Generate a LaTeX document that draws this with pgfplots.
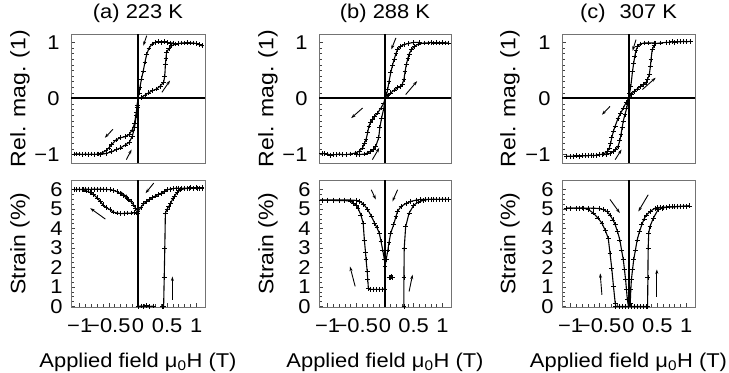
\documentclass[border=0pt]{standalone}
\usepackage{fontspec}
\setmainfont{Liberation Sans}[FakeStretch=1.1]
\usepackage{pgfplots}
\pgfplotsset{compat=1.18}
\usetikzlibrary{arrows.meta}

\pgfplotsset{
  base/.style={
    scale only axis,
    axis line style={black!55, line width=0.9bp},
    tick style={black!75, line width=0.6bp},
    tick align=inside,
    xtick pos=lower, ytick pos=left,
    major tick length=4bp, minor tick length=2.5bp,
    xmin=-1.15, xmax=1.15,
    tick label style={font=\fontsize{20}{22}\selectfont},
    label style={font=\fontsize{21}{23}\selectfont},
    title style={at={(axis description cs:0.5,1)}, anchor=base, yshift=10bp, font=\fontsize{20}{22}\selectfont},
    clip=true,
  },
  magax/.style={base, height=129bp, ymin=-1.15, ymax=1.15,
    ytick={-1,0,1}, yticklabels={−1,0,1}, minor y tick num=9,
    xtick=\empty,
    yticklabel style={xshift=-8bp},
    ylabel={Rel. mag. (1)},
    ylabel style={at={(axis description cs:#1,0.5)}, anchor=center}},
  strax/.style={base, height=127bp, ymin=-0.03, ymax=6.5,
    ytick={0,1,2,3,4,5,6}, yticklabels={0,1,2,3,4,5,6}, minor y tick num=3,
    xtick={-1,-0.5,0,0.5,1}, xticklabels={−1,−0.5,0,0.5,1}, minor x tick num=4,
    yticklabel style={xshift=-5bp},
    xticklabel style={yshift=-8bp},
    ylabel={Strain (\%)},
    ylabel style={at={(axis description cs:#1,0.5)}, anchor=center},
    xlabel={Applied field μ\textsubscript{0}H (T)},
    xlabel style={at={(axis description cs:0.5,0)}, anchor=base, yshift=-60bp, font=\fontsize{20}{22}\selectfont}},
  curve/.style={black, line width=1.1bp, mark=+, mark size=2.4bp, mark options={line width=0.7bp, solid}},
  pts/.style={black, only marks, mark=+, mark size=2.4bp, mark options={line width=0.7bp}},
  arr/.style={black, line width=0.9bp, -{Stealth[length=4.5bp,width=3bp]}, mark=none},
  zl/.style={black, line width=2bp, mark=none},
}

\begin{document}
\begin{tikzpicture}
\useasboundingbox (0,0) rectangle (729bp,373bp);

%% ---------------- (a) 223 K : magnetisation
\begin{axis}[magax=-0.381, width=134bp, at={(71bp,210bp)}, anchor=south west, title={(a) 223 K}]
\addplot[zl] coordinates {(0,-1.15) (0,1.15)};
\addplot[zl] coordinates {(-1.15,0) (1.15,0)};
\addplot[curve] coordinates {(0,0) (0.06,0.02) (0.12,0.06) (0.18,0.1) (0.25,0.14) (0.32,0.17) (0.38,0.22) (0.44,0.29) (0.46,0.4) (0.47,0.6) (0.48,0.72) (0.49,0.82) (0.53,0.89) (0.58,0.94) (0.64,0.97) (0.7,0.98) (0.75,0.99) (0.8,0.99) (0.85,1.0) (0.9,0.99) (0.95,0.99) (1.0,0.98) (1.05,0.96) (1.1,0.94)};
\addplot[curve] coordinates {(0,0) (0.02,0.1) (0.034,0.2) (0.06,0.35) (0.09,0.49) (0.12,0.65) (0.15,0.79) (0.19,0.9) (0.24,0.97) (0.3,1.0) (0.35,1.01) (0.4,1.0) (0.45,1.01) (0.5,1.0) (0.55,0.99) (0.6,0.99)};
\addplot[curve] coordinates {(0,0) (-0.015,-0.15) (-0.03,-0.3) (-0.06,-0.52) (-0.1,-0.68) (-0.15,-0.78) (-0.22,-0.83) (-0.3,-0.88) (-0.37,-0.91) (-0.45,-0.95) (-0.55,-0.98) (-0.65,-1.0) (-0.7,-0.99) (-0.75,-1.0) (-0.8,-0.99) (-0.85,-1.0) (-0.9,-0.99) (-0.95,-1.0) (-1.0,-0.99) (-1.05,-0.99) (-1.1,-0.99)};
\addplot[curve] coordinates {(0,0) (-0.015,-0.12) (-0.03,-0.25) (-0.06,-0.45) (-0.1,-0.56) (-0.15,-0.64) (-0.22,-0.68) (-0.3,-0.70) (-0.38,-0.74) (-0.45,-0.82) (-0.5,-0.88) (-0.55,-0.93) (-0.62,-0.97) (-0.68,-0.99)};
\addplot[arr] coordinates {(0.15,1.12) (0.09,0.94)};
\addplot[arr] coordinates {(0.41,0.11) (0.55,0.32)};
\addplot[arr] coordinates {(-0.43,-0.55) (-0.57,-0.70)};
\addplot[arr] coordinates {(-0.2,-1.09) (-0.11,-0.91)};
\end{axis}

%% ---------------- (a) strain
\begin{axis}[strax=-0.381, width=134bp, at={(71bp,66bp)}, anchor=south west]
\addplot[zl] coordinates {(0,-0.03) (0,6.5)};
\addplot[curve] coordinates {(1.1,6.1) (1.05,6.08) (1.0,6.1) (0.95,6.08) (0.9,6.1) (0.85,6.08) (0.8,6.08) (0.75,6.07) (0.7,6.07) (0.65,6.08) (0.61,6.06) (0.55,6.03) (0.5,6.0) (0.45,5.9) (0.4,5.82) (0.35,5.75) (0.3,5.68) (0.25,5.6) (0.2,5.5) (0.15,5.4) (0.1,5.28) (0.05,5.1) (0,4.88) (-0.04,5.05) (-0.075,5.22) (-0.12,5.38) (-0.16,5.5) (-0.19,5.56) (-0.25,5.7) (-0.3,5.8) (-0.36,5.9) (-0.42,5.97) (-0.48,6.0) (-0.55,6.02) (-0.6,6.02) (-0.65,6.03) (-0.7,6.02) (-0.75,6.03) (-0.8,6.02) (-0.85,6.02) (-0.9,6.03) (-0.95,6.02) (-1.0,6.02) (-1.05,6.01) (-1.1,6.0)};
\addplot[curve] coordinates {(-1.1,6.02) (-1.05,6.02) (-1.0,6.01) (-0.94,6.0) (-0.88,5.93) (-0.82,5.85) (-0.76,5.74) (-0.7,5.58) (-0.65,5.4) (-0.6,5.22) (-0.55,5.1) (-0.48,4.97) (-0.42,4.85) (-0.36,4.8) (-0.3,4.77) (-0.24,4.78) (-0.19,4.8) (-0.12,4.8) (-0.06,4.82) (-0.02,4.8) (0,4.8)};
\addplot[curve] coordinates {(0,0) (0.05,0.02) (0.1,0) (0.15,0.03) (0.2,0) (0.27,0.02)};
\addplot[curve] coordinates {(0.42,0) (0.44,0) (0.45,1.5) (0.46,3) (0.47,4.8) (0.5,5.0) (0.53,5.15) (0.56,5.3) (0.6,5.55) (0.62,5.65) (0.67,5.85) (0.73,6.0) (0.8,6.05) (0.88,6.07) (0.95,6.08) (1.02,6.08) (1.1,6.07)};
\addplot[arr] coordinates {(-0.56,4.49) (-0.82,5.05)};
\addplot[arr] coordinates {(-0.3,5.9) (-0.16,5.56)};
\addplot[arr] coordinates {(0.27,6.34) (0.13,5.82)};
\addplot[arr] coordinates {(0.59,0.34) (0.59,1.54)};
\end{axis}

%% ---------------- (b) 288 K : magnetisation
\begin{axis}[magax=-0.386, width=132bp, at={(319bp,210bp)}, anchor=south west, title={(b) 288 K}]
\addplot[zl] coordinates {(0,-1.15) (0,1.15)};
\addplot[zl] coordinates {(-1.15,0) (1.15,0)};
\addplot[curve] coordinates {(0,0) (0.05,0.05) (0.1,0.1) (0.16,0.15) (0.22,0.19) (0.27,0.22) (0.3,0.25) (0.33,0.34) (0.35,0.48) (0.37,0.6) (0.4,0.72) (0.42,0.79) (0.46,0.87) (0.51,0.93) (0.58,0.97) (0.68,0.99) (0.75,0.99) (0.8,1.0) (0.85,0.99) (0.9,1.0) (0.95,0.99) (1.0,1.0) (1.05,0.99) (1.11,0.99)};
\addplot[curve] coordinates {(0,0) (0.03,0.08) (0.046,0.16) (0.07,0.3) (0.1,0.46) (0.13,0.59) (0.16,0.7) (0.19,0.8) (0.22,0.875) (0.27,0.93) (0.33,0.96) (0.4,0.98) (0.5,1.0) (0.6,1.0)};
\addplot[curve] coordinates {(0,0) (-0.02,-0.17) (-0.06,-0.35) (-0.09,-0.52) (-0.11,-0.70) (-0.16,-0.85) (-0.2,-0.91) (-0.25,-0.94) (-0.3,-0.97) (-0.36,-0.99) (-0.45,-1.0) (-0.5,-1.0)};
\addplot[curve] coordinates {(0,0) (-0.02,-0.08) (-0.07,-0.17) (-0.13,-0.26) (-0.18,-0.32) (-0.22,-0.375) (-0.25,-0.43) (-0.28,-0.49) (-0.3,-0.6) (-0.33,-0.73) (-0.36,-0.8) (-0.39,-0.88) (-0.45,-0.94) (-0.51,-0.97) (-0.6,-0.99) (-0.68,-1.0) (-0.75,-1.0) (-0.8,-0.99) (-0.85,-1.0) (-0.9,-1.0) (-0.95,-1.01) (-1.0,-0.99) (-1.05,-0.98) (-1.1,-0.98)};
\addplot[arr] coordinates {(0.19,1.08) (0.11,0.875)};
\addplot[arr] coordinates {(0.36,0.07) (0.56,0.31)};
\addplot[arr] coordinates {(-0.39,-0.17) (-0.59,-0.35)};
\addplot[arr] coordinates {(-0.22,-1.09) (-0.1,-0.88)};
\end{axis}

%% ---------------- (b) strain
\begin{axis}[strax=-0.386, width=132bp, at={(319bp,66bp)}, anchor=south west]
\addplot[zl] coordinates {(0,-0.03) (0,6.5)};
\addplot[curve] coordinates {(1.1,5.5) (1.05,5.5) (1.0,5.51) (0.95,5.5) (0.9,5.5) (0.85,5.51) (0.8,5.5) (0.75,5.5) (0.7,5.5) (0.62,5.5) (0.55,5.47) (0.45,5.4) (0.37,5.3) (0.28,5.14) (0.22,4.9) (0.19,4.62) (0.15,4.2) (0.1,3.77) (0.07,3.3) (0.05,2.9) (0.02,2.4) (0,2.05) (-0.01,2.4) (-0.04,2.9) (-0.07,3.35) (-0.1,3.77) (-0.14,4.05) (-0.18,4.28) (-0.24,4.65) (-0.3,4.97) (-0.37,5.25) (-0.44,5.4) (-0.5,5.45) (-0.6,5.47) (-0.7,5.47) (-0.8,5.47) (-0.9,5.47) (-1.0,5.47) (-1.1,5.47)};
\addplot[curve] coordinates {(-1.1,5.45) (-1.0,5.45) (-0.9,5.45) (-0.8,5.44) (-0.7,5.44) (-0.6,5.42) (-0.55,5.3) (-0.5,5.2) (-0.47,5.05) (-0.42,4.7) (-0.38,4.28) (-0.36,3.42) (-0.34,2.8) (-0.33,2.4) (-0.31,1.8) (-0.3,1.37) (-0.29,0.94) (-0.25,0.88) (-0.2,0.87) (-0.15,0.88) (-0.1,0.87) (-0.05,0.88) (0,0.9)};
\addplot[pts] coordinates {(0.07,1.5) (0.09,1.5) (0.11,1.52) (0.13,1.5)};
\addplot[curve] coordinates {(0.33,0) (0.33,1.5) (0.335,3.0) (0.36,4.1) (0.42,4.8) (0.5,5.2) (0.58,5.37) (0.67,5.45) (0.75,5.5) (0.85,5.5) (0.95,5.5) (1.05,5.5) (1.1,5.5)};
\addplot[arr] coordinates {(-0.24,6.0) (-0.16,5.5)};
\addplot[arr] coordinates {(0.22,6.0) (0.13,5.4)};
\addplot[arr] coordinates {(-0.52,1.03) (-0.61,2.05)};
\addplot[arr] coordinates {(0.42,0.77) (0.48,1.63)};
\end{axis}

%% ---------------- (c) 307 K : magnetisation
\begin{axis}[magax=-0.391, width=133bp, at={(562bp,210bp)}, anchor=south west, title={(c)\hspace{14bp}307 K}]
\addplot[zl] coordinates {(0,-1.15) (0,1.15)};
\addplot[zl] coordinates {(-1.15,0) (1.15,0)};
\addplot[curve] coordinates {(0,0) (0.05,0.07) (0.1,0.13) (0.15,0.17) (0.21,0.22) (0.26,0.25) (0.3,0.28) (0.33,0.34) (0.36,0.43) (0.38,0.58) (0.39,0.7) (0.41,0.875) (0.44,0.94) (0.47,0.98) (0.55,0.99) (0.65,1.0) (0.7,1.0) (0.75,1.01) (0.8,1.0) (0.85,1.01) (0.9,1.01) (0.95,1.02) (1.0,1.01) (1.07,1.02)};
\addplot[curve] coordinates {(0,0) (0.02,0.1) (0.04,0.22) (0.07,0.49) (0.09,0.63) (0.11,0.76) (0.13,0.86) (0.16,0.93) (0.2,0.97) (0.27,0.99) (0.35,0.99) (0.45,0.99)};
\addplot[curve] coordinates {(0,0) (-0.015,-0.08) (-0.03,-0.17) (-0.06,-0.28) (-0.09,-0.4) (-0.11,-0.52) (-0.13,-0.64) (-0.15,-0.75) (-0.18,-0.85) (-0.22,-0.91) (-0.26,-0.95) (-0.32,-0.98) (-0.38,-1.0) (-0.45,-1.0)};
\addplot[curve] coordinates {(0,0) (-0.04,-0.07) (-0.09,-0.17) (-0.14,-0.27) (-0.18,-0.35) (-0.23,-0.49) (-0.26,-0.58) (-0.29,-0.70) (-0.31,-0.8) (-0.33,-0.88) (-0.37,-0.95) (-0.43,-0.99) (-0.5,-1.0) (-0.55,-1.01) (-0.61,-1.02) (-0.65,-1.01) (-0.7,-1.02) (-0.75,-1.02) (-0.8,-1.02) (-0.85,-1.03) (-0.9,-1.02) (-0.95,-1.03) (-1.0,-1.03) (-1.07,-1.03)};
\addplot[arr] coordinates {(0.13,1.05) (0.07,0.85)};
\addplot[arr] coordinates {(0.24,0.16) (0.47,0.37)};
\addplot[arr] coordinates {(-0.32,-0.14) (-0.46,-0.29)};
\addplot[arr] coordinates {(-0.23,-1.09) (-0.12,-0.91)};
\end{axis}

%% ---------------- (c) strain
\begin{axis}[strax=-0.391, width=133bp, at={(562bp,66bp)}, anchor=south west]
\addplot[zl] coordinates {(0,-0.03) (0,6.5)};
\addplot[curve] coordinates {(1.06,5.17) (1.0,5.15) (0.95,5.15) (0.9,5.14) (0.85,5.14) (0.8,5.13) (0.75,5.12) (0.7,5.12) (0.65,5.1) (0.6,5.1) (0.55,5.09) (0.5,5.08) (0.46,5.05) (0.38,4.9) (0.31,4.7) (0.27,4.5) (0.23,4.2) (0.19,3.85) (0.15,3.42) (0.12,2.9) (0.09,2.4) (0.07,1.9) (0.05,1.37) (0.04,0.86) (0.03,0.17) (0,0) (-0.02,0.34) (-0.035,0.86) (-0.05,1.37) (-0.07,1.9) (-0.09,2.4) (-0.12,2.9) (-0.15,3.42) (-0.19,3.85) (-0.23,4.2) (-0.27,4.45) (-0.32,4.7) (-0.37,4.87) (-0.43,4.97) (-0.5,5.03) (-0.6,5.05) (-0.7,5.05) (-0.8,5.06) (-0.9,5.05) (-1.0,5.05) (-1.08,5.05)};
\addplot[curve] coordinates {(-1.08,5.05) (-1.0,5.05) (-0.9,5.05) (-0.85,5.05) (-0.78,5.05) (-0.7,5.0) (-0.61,4.8) (-0.53,4.55) (-0.46,4.28) (-0.4,3.9) (-0.35,3.5) (-0.32,2.74) (-0.29,1.97) (-0.26,1.03) (-0.23,0.17) (-0.22,0) (-0.15,0) (-0.1,0) (-0.05,0) (0,0) (0.05,0) (0.1,0) (0.15,0) (0.2,0) (0.25,0) (0.3,0) (0.33,0) (0.335,1.5) (0.34,3.0) (0.35,3.77) (0.37,4.1) (0.43,4.54) (0.51,4.97) (0.58,5.05) (0.66,5.1) (0.75,5.12) (0.85,5.13) (0.95,5.15) (1.06,5.17)};
\addplot[arr] coordinates {(-0.32,5.5) (-0.15,4.8)};
\addplot[arr] coordinates {(0.34,5.74) (0.17,4.88)};
\addplot[arr] coordinates {(-0.46,0.6) (-0.49,1.7)};
\addplot[arr] coordinates {(0.49,0.5) (0.49,1.9)};
\end{axis}
\end{tikzpicture}
\end{document}
